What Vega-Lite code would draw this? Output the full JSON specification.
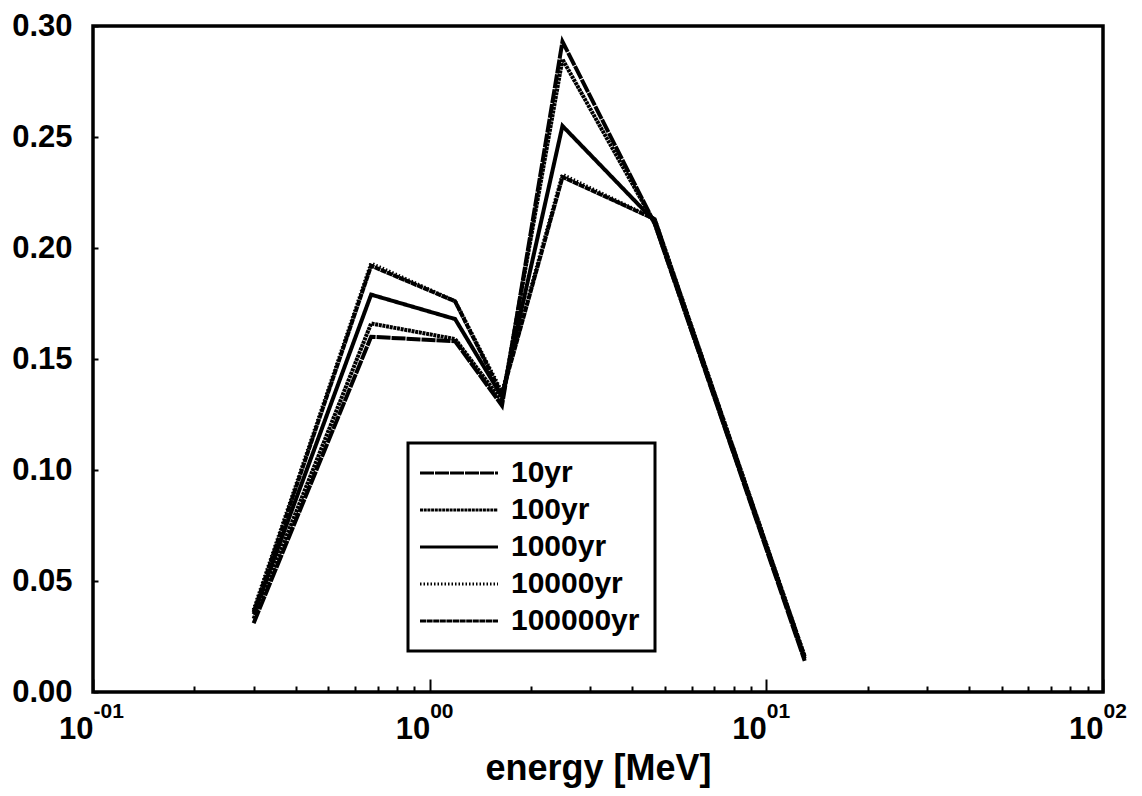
{
  "$schema": "https://vega.github.io/schema/vega-lite/v6.json",
  "width": 1010,
  "height": 666,
  "autosize": {"type": "none"},
  "padding": {"left": 93, "top": 26, "right": 39, "bottom": 104},
  "background": "white",
  "config": {
    "font": "Liberation Sans",
    "view": {"stroke": "black", "strokeWidth": 3.5},
    "axis": {
      "domain": false,
      "grid": false,
      "labelFont": "Liberation Sans",
      "labelFontWeight": "bold",
      "labelColor": "black",
      "tickColor": "black",
      "tickWidth": 2,
      "titleFont": "Liberation Sans",
      "titleFontWeight": "bold",
      "titleColor": "black",
      "labelFlush": false,
      "labelOverlap": false
    },
    "legend": {
      "orient": "none",
      "legendX": 315,
      "legendY": 417,
      "fillColor": "white",
      "strokeColor": "black",
      "strokeWidth": 3,
      "padding": 15,
      "symbolType": "M-4,0H4",
      "symbolSize": 380,
      "symbolOffset": 21,
      "symbolStrokeWidth": 3,
      "symbolStrokeColor": "black",
      "labelFont": "Liberation Sans",
      "labelFontWeight": "bold",
      "labelFontSize": 30,
      "labelColor": "black",
      "labelOffset": 37,
      "labelExpr": "datum.label + '\u00a0\u00a0'",
      "rowPadding": 7
    }
  },
  "data": {
    "values": [
      {"time": "10yr", "energy": 0.30, "flux": 0.031},
      {"time": "10yr", "energy": 0.67, "flux": 0.160},
      {"time": "10yr", "energy": 1.19, "flux": 0.158},
      {"time": "10yr", "energy": 1.64, "flux": 0.129},
      {"time": "10yr", "energy": 2.48, "flux": 0.293},
      {"time": "10yr", "energy": 4.66, "flux": 0.211},
      {"time": "10yr", "energy": 13.0, "flux": 0.014},
      {"time": "100yr", "energy": 0.30, "flux": 0.033},
      {"time": "100yr", "energy": 0.67, "flux": 0.166},
      {"time": "100yr", "energy": 1.19, "flux": 0.159},
      {"time": "100yr", "energy": 1.64, "flux": 0.131},
      {"time": "100yr", "energy": 2.48, "flux": 0.285},
      {"time": "100yr", "energy": 4.66, "flux": 0.211},
      {"time": "100yr", "energy": 13.0, "flux": 0.015},
      {"time": "1000yr", "energy": 0.30, "flux": 0.035},
      {"time": "1000yr", "energy": 0.67, "flux": 0.179},
      {"time": "1000yr", "energy": 1.19, "flux": 0.168},
      {"time": "1000yr", "energy": 1.64, "flux": 0.133},
      {"time": "1000yr", "energy": 2.48, "flux": 0.255},
      {"time": "1000yr", "energy": 4.66, "flux": 0.212},
      {"time": "1000yr", "energy": 13.0, "flux": 0.015},
      {"time": "10000yr", "energy": 0.30, "flux": 0.037},
      {"time": "10000yr", "energy": 0.67, "flux": 0.193},
      {"time": "10000yr", "energy": 1.19, "flux": 0.176},
      {"time": "10000yr", "energy": 1.64, "flux": 0.135},
      {"time": "10000yr", "energy": 2.48, "flux": 0.233},
      {"time": "10000yr", "energy": 4.66, "flux": 0.213},
      {"time": "10000yr", "energy": 13.0, "flux": 0.016},
      {"time": "100000yr", "energy": 0.30, "flux": 0.036},
      {"time": "100000yr", "energy": 0.67, "flux": 0.192},
      {"time": "100000yr", "energy": 1.19, "flux": 0.176},
      {"time": "100000yr", "energy": 1.64, "flux": 0.134},
      {"time": "100000yr", "energy": 2.48, "flux": 0.232},
      {"time": "100000yr", "energy": 4.66, "flux": 0.213},
      {"time": "100000yr", "energy": 13.0, "flux": 0.016}
    ]
  },
  "layer": [
    {
      "mark": {"type": "line", "color": "black", "strokeWidth": 4, "strokeJoin": "miter"},
      "encoding": {
        "x": {
          "field": "energy",
          "type": "quantitative",
          "scale": {"type": "log", "domain": [0.1, 100], "nice": false},
          "axis": {
            "orient": "bottom",
            "values": [0.1, 0.2, 0.3, 0.4, 0.5, 0.6, 0.7, 0.8, 0.9, 1, 2, 3, 4, 5, 6, 7, 8, 9, 10, 20, 30, 40, 50, 60, 70, 80, 90, 100],
            "labelExpr": "abs(log(datum.value)/LN10 - round(log(datum.value)/LN10)) < 0.001 ? '10' : ''",
            "labelAlign": "right",
            "labelBaseline": "alphabetic",
            "labelFontSize": 31,
            "labelPadding": 59,
            "tickSize": {"condition": {"test": "abs(log(datum.value)/LN10 - round(log(datum.value)/LN10)) < 0.001", "value": -13}, "value": -6},
            "title": "energy [MeV]",
            "titleFontSize": 36,
            "titlePadding": 0
          }
        },
        "y": {
          "field": "flux",
          "type": "quantitative",
          "scale": {"domain": [0, 0.3], "nice": false},
          "axis": {
            "values": [0, 0.05, 0.1, 0.15, 0.2, 0.25, 0.3],
            "format": ".2f",
            "labelFontSize": 31,
            "tickSize": -5,
            "labelPadding": 26,
            "title": null
          }
        },
        "strokeDash": {
          "field": "time",
          "type": "nominal",
          "title": null,
          "scale": {
            "domain": ["10yr", "100yr", "1000yr", "10000yr", "100000yr"],
            "range": [[14, 1], [3, 0.7], [1, 0], [1.5, 2], [6, 0.6]]
          }
        }
      }
    },
    {
      "mark": {"type": "point", "opacity": 0},
      "encoding": {
        "x": {
          "field": "energy",
          "type": "quantitative",
          "axis": {
            "orient": "bottom",
            "values": [0.1, 1, 10, 100],
            "labelExpr": "datum.value < 0.5 ? '-01' : datum.value < 5 ? '00' : datum.value < 50 ? '01' : '02'",
            "labelAlign": "left",
            "labelBaseline": "alphabetic",
            "labelFontSize": 21,
            "labelDx": 9,
            "labelPadding": 25,
            "ticks": false,
            "title": null
          }
        }
      }
    }
  ],
  "resolve": {"axis": {"x": "independent"}}
}
